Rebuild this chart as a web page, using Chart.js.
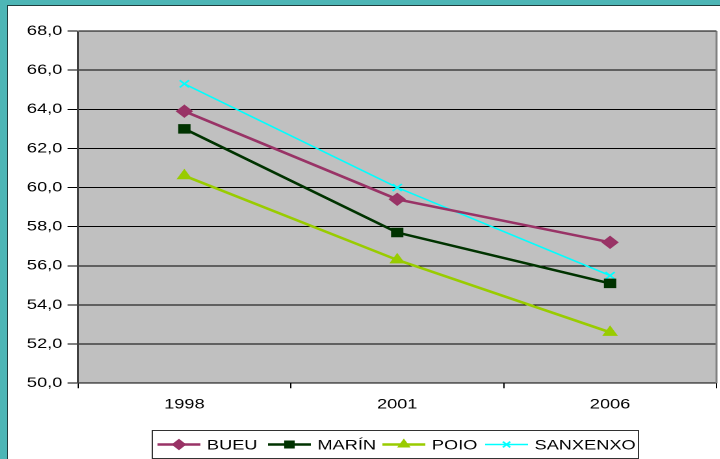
<!DOCTYPE html>
<html><head><meta charset="utf-8">
<script src="https://cdn.jsdelivr.net/npm/chart.js@4"></script>
<style>
html,body{margin:0;padding:0;background:#4db6b6;width:720px;height:459px;overflow:hidden;}
#frame{position:absolute;left:7px;top:5px;width:713px;height:454px;background:#fff;border-left:1px solid #1f3f3f;border-top:1px solid #1f3f3f;overflow:hidden;}
#c{display:block;transform:scaleX(1.3);transform-origin:0 0;}
</style></head><body>
<div id="frame"><canvas id="c" width="552" height="453"></canvas></div>
<script>
const categories = ['1998','2001','2006'];
const seriesNames = ['BUEU','MARÍN','POIO','SANXENXO'];
const bueu = [63.9, 59.4, 57.2];
const marin = [63.0, 57.7, 55.1];
const poio = [60.6, 56.3, 52.6];
const sanxenxo = [65.3, 60.0, 55.5];
const yMin = 50, yMax = 68, yStep = 2;

const colors = ['#993366','#003300','#99cc00','#00ffff'];
const styles = ['rectRot','rect','triangle','crossRot'];
const radii = [6,6,6,5];
const widths = [2.5,2.5,2.5,1.5];
const values = [bueu, marin, poio, sanxenxo];
const FONT = '"Liberation Sans", Arial, sans-serif';

const datasets = seriesNames.map((n,i)=>({
  label:n, data:values[i], borderColor:colors[i], backgroundColor:colors[i],
  borderWidth:widths[i], pointStyle:styles[i], pointRadius:radii[i],
  pointBorderColor:colors[i], pointBackgroundColor:colors[i], pointBorderWidth:i===3?1.5:1,
  tension:0
}));

const bgPlugin = {
  id:'bg',
  beforeDraw(chart){
    const {ctx, chartArea:a} = chart;
    ctx.save();
    ctx.fillStyle='#c0c0c0';
    ctx.fillRect(a.left,a.top,a.right-a.left,a.bottom-a.top);
    ctx.restore();
  },
  afterDatasetsDraw(chart){
    const {ctx, chartArea:a} = chart;
    ctx.save();
    ctx.strokeStyle='#808080'; ctx.lineWidth=1.5;
    ctx.beginPath(); ctx.moveTo(a.right,a.top); ctx.lineTo(a.right,a.bottom); ctx.stroke();
    ctx.strokeStyle='#606060'; ctx.lineWidth=1;
    ctx.beginPath(); ctx.moveTo(a.left,a.top+0.5); ctx.lineTo(a.right,a.top+0.5); ctx.stroke();
    ctx.restore();
  }
};

const legendPlugin = {
  id:'legendWrap',
  afterDraw(chart){
    const ctx=chart.ctx;
    ctx.save();
    const bx=111, by=424.5, bw=374, bh=28;
    ctx.fillStyle='#fff'; ctx.fillRect(bx,by,bw,bh);
    ctx.strokeStyle='#000'; ctx.lineWidth=0.8; ctx.strokeRect(bx,by,bw,bh);
    const starts=[115,200,288,367];
    const cy=by+bh/2;
    ctx.font='14px '+FONT;
    ctx.textBaseline='middle';
    chart.data.datasets.forEach((d,i)=>{
      const x0=starts[i], x1=x0+33;
      ctx.strokeStyle=d.borderColor; ctx.lineWidth=d.borderWidth;
      ctx.beginPath(); ctx.moveTo(x0,cy); ctx.lineTo(x1,cy); ctx.stroke();
      ctx.fillStyle=d.backgroundColor; ctx.strokeStyle=d.borderColor; ctx.lineWidth=d.pointBorderWidth;
      Chart.helpers.drawPoint(ctx,{pointStyle:d.pointStyle,radius:d.pointRadius-1,borderWidth:d.pointBorderWidth},(x0+x1)/2,cy);
      ctx.fillStyle='#000';
      ctx.fillText(d.label,x1+5,cy+1);
    });
    ctx.restore();
  }
};

new Chart(document.getElementById('c'),{
  type:'line',
  data:{labels:categories, datasets},
  options:{
    responsive:false, animation:false, devicePixelRatio:2,
    layout:{padding:{left:0,right:0,top:25,bottom:38}},
    plugins:{legend:{display:false}, tooltip:{enabled:false}},
    scales:{
      x:{
        offset:true,
        grid:{offset:true, drawOnChartArea:false, color:'#000', tickLength:5},
        border:{color:'#000', width:1},
        ticks:{color:'#000', font:{family:FONT, size:14}, padding:8, maxRotation:0}
      },
      y:{
        min:yMin, max:yMax,
        grid:{color:'#000', tickLength:8},
        border:{color:'#404040', width:1.5},
        ticks:{stepSize:yStep, color:'#000', font:{family:FONT, size:14}, padding:4,
          callback:v=>v.toFixed(1).replace('.',',')},
        afterFit(s){ s.width=53.8; }
      }
    }
  },
  plugins:[bgPlugin, legendPlugin]
});
</script>
</body></html>
